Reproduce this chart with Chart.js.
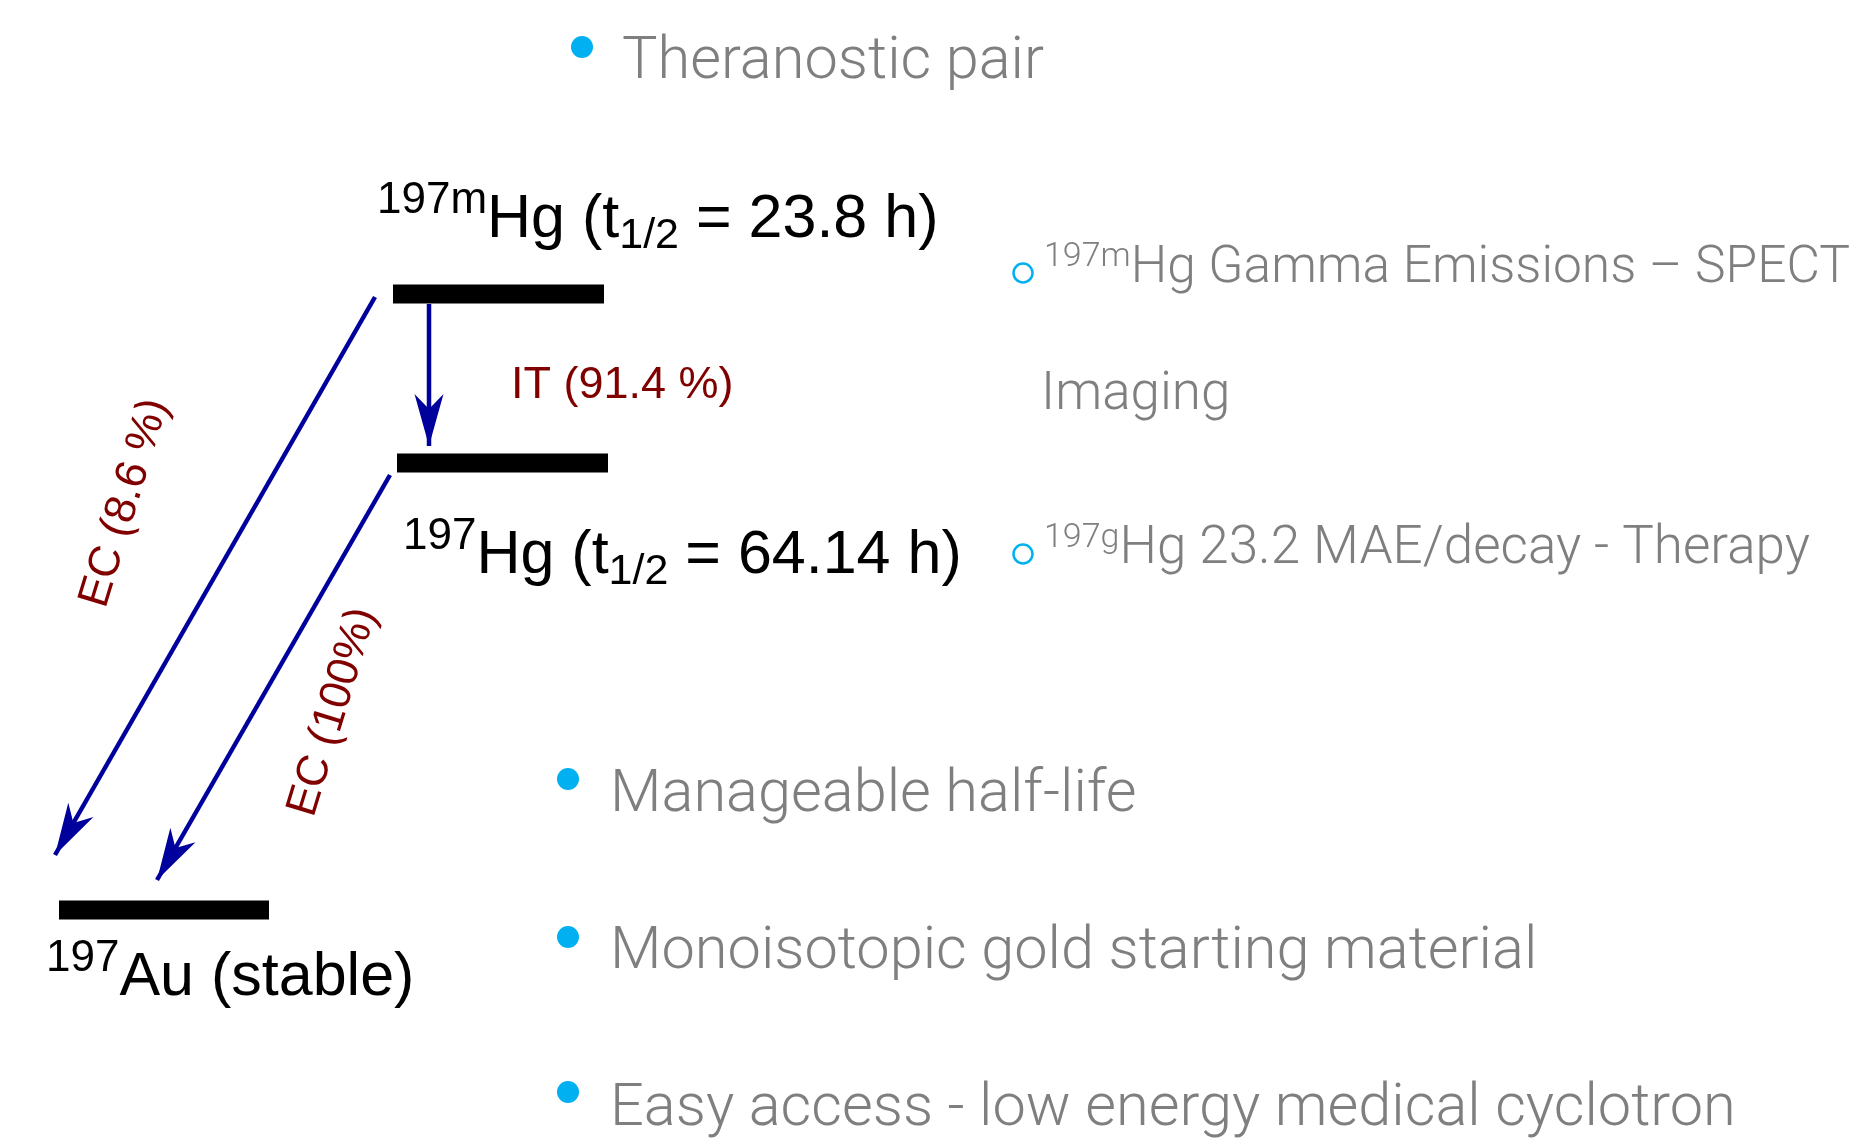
<!DOCTYPE html>
<html>
<head>
<meta charset="utf-8">
<script src="https://cdn.jsdelivr.net/npm/chart.js@4.4.1/dist/chart.umd.min.js"></script>
<style>
  html, body { margin: 0; padding: 0; background: #fff; }
  #wrap { width: 1850px; height: 1146px; position: relative; }
</style>
</head>
<body>
<div id="wrap"><canvas id="scheme"></canvas></div>
<script>
// Decay scheme of 197mHg / 197Hg -> 197Au, in diagram units (x right, y down)
const levelMass = ['197m', '197', '197'];
const levelElement = ['Hg', 'Hg', 'Au'];
const levelHalfLife = ['23.8 h', '64.14 h', null];
const levelStart = [393, 397, 59];
const levelEnd = [604, 608, 269];
const levelY = [294, 463, 910];

const transitionMode = ['IT', 'EC', 'EC'];
const transitionBranch = ['91.4 %', '8.6 %', '100%'];
const transitionFrom = [[429, 304], [375, 297], [390, 475]];
const transitionTo = [[429, 446], [55, 855], [157, 880]];

// bullet list on the right
const mainPoints = ['Theranostic pair', 'Manageable half-life', 'Monoisotopic gold starting material', 'Easy access - low energy medical cyclotron'];
const subSup = ['197m', '197g'];
const subText = ['Hg Gamma Emissions \u2013 SPECT', 'Hg 23.2 MAE/decay - Therapy'];
const subContinued = ['Imaging', null];

const mainBulletPos = [[582, 47], [568, 779], [568, 937], [568, 1092]];
const subBulletPos = [[1023, 273], [1023, 554]];

const NAVY = '#00009c';
const DARKRED = '#800000';
const GREY = '#7f7f7f';
const CYAN = '#00b0f0';
const BLACK_FONT = '"Liberation Sans", Arial, sans-serif';
const GREY_FONT = 'Roboto, "Liberation Sans", sans-serif';

const datasets = [];
levelY.forEach((y, i) => {
    datasets.push({
        type: 'line',
        data: [{ x: levelStart[i], y }, { x: levelEnd[i], y }],
        borderColor: '#000',
        borderWidth: 19,
        borderCapStyle: 'butt',
        pointRadius: 0,
        kind: 'level',
    });
});
transitionFrom.forEach((from, i) => {
    datasets.push({
        type: 'line',
        data: [{ x: from[0], y: from[1] }, { x: transitionTo[i][0], y: transitionTo[i][1] }],
        borderColor: NAVY,
        borderWidth: 4.5,
        borderCapStyle: 'butt',
        pointRadius: 0,
        kind: 'arrow',
    });
});
datasets.push({
    type: 'scatter',
    data: mainBulletPos.map(p => ({ x: p[0], y: p[1] })),
    pointRadius: 11,
    pointBackgroundColor: CYAN,
    pointBorderWidth: 0,
});
datasets.push({
    type: 'scatter',
    data: subBulletPos.map(p => ({ x: p[0], y: p[1] })),
    pointRadius: 9.5,
    pointBackgroundColor: 'rgba(0,0,0,0)',
    pointBorderColor: CYAN,
    pointBorderWidth: 2.5,
});

// draws a row of text pieces: [text, size, raise]
function drawRun(ctx, x, y, parts, family, weight, color) {
    ctx.fillStyle = color;
    ctx.textBaseline = 'alphabetic';
    ctx.textAlign = 'left';
    for (const [t, size, dy] of parts) {
        ctx.font = `${weight} ${size}px ${family}`;
        ctx.fillText(t, x, y + dy);
        x += ctx.measureText(t).width;
    }
}

const schemePlugin = {
    id: 'scheme',
    afterDatasetsDraw(chart) {
        const ctx = chart.ctx;
        const xs = chart.scales.x, ys = chart.scales.y;
        const px = v => xs.getPixelForValue(v), py = v => ys.getPixelForValue(v);
        ctx.save();

        // arrow heads
        chart.data.datasets.forEach((ds, i) => {
            if (ds.kind !== 'arrow') return;
            const pts = chart.getDatasetMeta(i).data;
            const a = pts[0], b = pts[1];
            let ux = b.x - a.x, uy = b.y - a.y;
            const len = Math.hypot(ux, uy);
            ux /= len; uy /= len;
            const nx = -uy, ny = ux;
            const L = 52, W = 14.5, N = 15;
            ctx.beginPath();
            ctx.moveTo(b.x, b.y);
            ctx.lineTo(b.x - ux * L + nx * W, b.y - uy * L + ny * W);
            ctx.lineTo(b.x - ux * (L - N), b.y - uy * (L - N));
            ctx.lineTo(b.x - ux * L - nx * W, b.y - uy * L - ny * W);
            ctx.closePath();
            ctx.fillStyle = NAVY;
            ctx.fill();
        });

        // level labels
        const levelLabelPos = [[377, 237], [403, 573], [46, 995]];
        levelMass.forEach((m, i) => {
            const parts = [[m, 44, -24]];
            if (levelHalfLife[i]) {
                parts.push([levelElement[i] + ' (t', 61, 0], ['1/2', 43, 11], [' = ' + levelHalfLife[i] + ')', 61, 0]);
            } else {
                parts.push([levelElement[i] + ' (stable)', 61, 0]);
            }
            drawRun(ctx, px(levelLabelPos[i][0]), py(levelLabelPos[i][1]), parts, BLACK_FONT, 'normal', '#000');
        });

        // transition labels
        ctx.fillStyle = DARKRED;
        ctx.font = `normal 45px ${BLACK_FONT}`;
        ctx.textAlign = 'left';
        ctx.textBaseline = 'alphabetic';
        ctx.fillText(`${transitionMode[0]} (${transitionBranch[0]})`, px(511), py(398));
        const ecLabelPos = [null, [125, 503, -73], [333, 712, -73]];
        for (let i = 1; i < transitionMode.length; i++) {
            const [cx, cy, ang] = ecLabelPos[i];
            ctx.save();
            ctx.translate(px(cx), py(cy));
            ctx.rotate(ang * Math.PI / 180);
            ctx.textAlign = 'center';
            ctx.textBaseline = 'middle';
            ctx.font = `normal 44px ${BLACK_FONT}`;
            ctx.fillText(`${transitionMode[i]} (${transitionBranch[i]})`, 0, 0);
            ctx.restore();
        }

        // bullet texts
        const mainTextPos = [[622, 78], [610, 811], [610, 968], [610, 1125]];
        mainPoints.forEach((t, i) => {
            drawRun(ctx, px(mainTextPos[i][0]), py(mainTextPos[i][1]), [[t, 59.5, 0]], GREY_FONT, 300, GREY);
        });
        const subTextPos = [[1044, 282], [1044, 563]];
        const subSize = [51.5, 53];
        subText.forEach((t, i) => {
            drawRun(ctx, px(subTextPos[i][0]), py(subTextPos[i][1]), [[subSup[i], 34, -16], [t, subSize[i], 0]], GREY_FONT, 300, GREY);
            if (subContinued[i]) {
                drawRun(ctx, px(1041), py(409), [[subContinued[i], 53, 0]], GREY_FONT, 300, GREY);
            }
        });
        ctx.restore();
    }
};

new Chart(document.getElementById('scheme'), {
    type: 'scatter',
    data: { datasets },
    options: {
        responsive: true,
        maintainAspectRatio: false,
        animation: false,
        layout: { padding: 0, autoPadding: false },
        scales: {
            x: { type: 'linear', min: 0, max: 1850, display: false },
            y: { type: 'linear', min: 0, max: 1146, reverse: true, display: false },
        },
        plugins: { legend: { display: false }, tooltip: { enabled: false } },
    },
    plugins: [schemePlugin],
});
</script>
</body>
</html>
